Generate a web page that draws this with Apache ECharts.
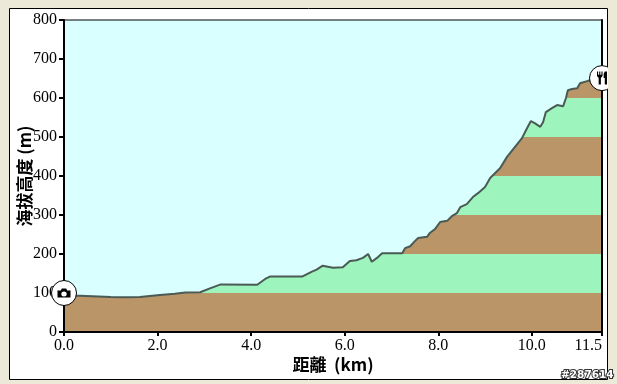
<!DOCTYPE html>
<html><head><meta charset="utf-8">
<style>html,body{margin:0;padding:0;background:#ECE9D8}#c{width:617px;height:384px}</style>
<script src="https://cdn.jsdelivr.net/npm/echarts@6/dist/echarts.min.js"></script>
</head><body><div id="c"></div>
<script>
const distanceKm = [0,0.34,1.0,1.3,1.62,2.05,2.37,2.59,2.91,3.12,3.35,4.13,4.3,4.4,5.09,5.3,5.4,5.53,5.75,5.96,6.11,6.25,6.39,6.5,6.58,6.69,6.8,7.23,7.29,7.40,7.50,7.57,7.76,7.82,7.93,8.04,8.19,8.29,8.40,8.47,8.61,8.74,8.85,9.0,9.11,9.32,9.47,9.79,9.90,9.98,10.07,10.18,10.24,10.30,10.43,10.54,10.67,10.73,10.77,10.86,10.97,11.03,11.2,11.5];
const elevationM = [93,93,90,89,90,95,98,101,102,112,122,121,136,142,142,155,160,170,165,166,182,184,190,200,180,190,202,202,215,220,233,241,244,254,264,282,285,297,305,320,328,346,356,372,395,420,449,497,523,541,535,526,538,564,574,582,579,600,620,623,625,638,644,651];
const bandEdges = [0,100,200,300,400,500,600,700];
const bandColors = ['#B99568','#9DF4BC'];
const yTicks = {min:0,max:800,interval:100};
const xTicks = {min:0,max:11.5,interval:2};
const startMark = [0,100];
const endMark = [11.5,651];
const camera = 'path://M0 3H3L4 1H8L9 3H12V10H0ZM6 4A2.5 2.5 0 1 0 6 9A2.5 2.5 0 1 0 6 4Z';
const cutlery = 'path://M0 0H1V3H2V0H3V3H4V0H5V4L3.5 6V12H1.5V6L0 4ZM7 0H9V12H7V6H6V2Z';
const pieces = bandEdges.slice(0,-1).map((e,i)=>({gte:e,lt:bandEdges[i+1],color:bandColors[i%2]}));
const axisFont = {fontFamily:'Liberation Serif',fontSize:16,color:'#000'};
const nameFont = {fontFamily:'Noto Sans CJK TC',fontSize:17,fontWeight:'bold',color:'#000'};
const chart = echarts.init(document.getElementById('c'),null,{renderer:'canvas'});
chart.setOption({
  animation:false,
  backgroundColor:'#ECE9D8',
  graphic:{elements:[
    {type:'rect',z:-10,silent:true,shape:{x:9.5,y:8.5,width:598,height:371},style:{fill:'#fff',stroke:'#000',lineWidth:1}},
    {type:'rect',z:100,zlevel:2,silent:true,shape:{x:608,y:0,width:9,height:364},style:{fill:'#ECE9D8'}},
    {type:'text',z:101,zlevel:2,silent:true,x:561,y:370,style:{text:'#287614',fontFamily:'DejaVu Sans',fontSize:10.5,fontWeight:'bold',fill:'#fff',stroke:'#333',lineWidth:2}}
  ]},
  grid:{left:64,right:15,top:20,bottom:52,outerBoundsMode:'none',show:true,backgroundColor:'#D9FFFF',borderColor:'#000',borderWidth:1},
  xAxis:{type:'value',min:xTicks.min,max:xTicks.max,interval:xTicks.interval,z:3,
    name:'距離  (km)',nameLocation:'middle',nameGap:24,nameMoveOverlap:false,nameTextStyle:nameFont,
    axisLine:{onZero:false,lineStyle:{color:'#000',width:2}},
    axisTick:{length:4,lineStyle:{color:'#000',width:2}},
    splitLine:{show:false},
    axisLabel:{...axisFont,margin:6,alignMaxLabel:'right',formatter:v=>v.toFixed(1)}},
  yAxis:[{type:'value',min:yTicks.min,max:yTicks.max,interval:yTicks.interval,z:3,
    name:'海拔高度 (m)',nameLocation:'middle',nameGap:31,nameMoveOverlap:false,nameTextStyle:nameFont,
    axisLine:{onZero:false,lineStyle:{color:'#000',width:2}},
    axisTick:{length:5,lineStyle:{color:'#000',width:2}},
    splitLine:{show:false},
    axisLabel:{...axisFont,margin:7}},
    {type:'value',position:'right',min:yTicks.min,max:yTicks.max,interval:yTicks.interval,z:3,
    axisLine:{show:true,onZero:false,lineStyle:{color:'#000',width:2}},
    axisTick:{show:false},splitLine:{show:false},axisLabel:{show:false}}],
  visualMap:{show:false,type:'piecewise',seriesIndex:0,dimension:1,pieces:pieces},
  series:[
    {type:'line',data:distanceKm.map((d,i)=>[d,elevationM[i]]),showSymbol:false,symbol:'none',z:2,
      lineStyle:{color:'#4A5A55',width:2},areaStyle:{opacity:1}},
    {type:'scatter',clip:false,data:[startMark,endMark],symbol:'circle',symbolSize:25,z:5,silent:true,
      itemStyle:{color:'#fff',borderColor:'#000',borderWidth:1,opacity:1}},
    {type:'scatter',clip:false,data:[startMark],symbol:camera,symbolSize:[13,9],z:6,silent:true,itemStyle:{color:'#000',opacity:1}},
    {type:'scatter',clip:false,data:[endMark],symbol:cutlery,symbolSize:[10,13],z:6,silent:true,itemStyle:{color:'#000',opacity:1}}
  ]
});
</script></body></html>
